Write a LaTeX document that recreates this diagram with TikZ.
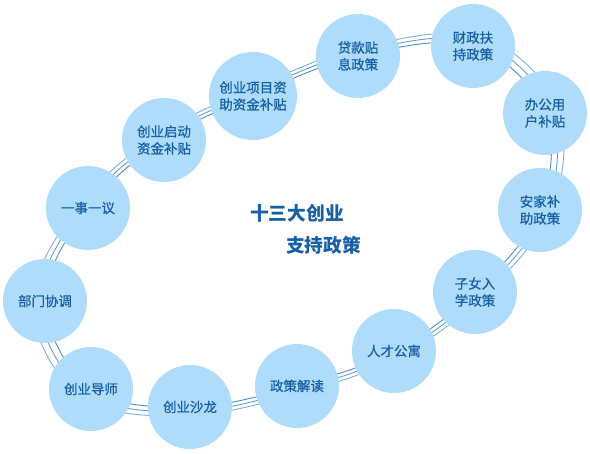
\documentclass[tikz,border=0pt]{standalone}
\usepackage{fontspec}
\newfontfamily\cjk[BoldFont={Noto Sans CJK SC}, BoldFeatures={FakeBold=0.7}]{Noto Sans CJK SC}
\newfontfamily\cjktitle{Noto Sans CJK SC}
\definecolor{PolicyBlue}{HTML}{1760A6}
\definecolor{BubbleFill}{HTML}{AEDCFA}
\definecolor{RingBlue}{HTML}{4589CC}
\usetikzlibrary{calc}
\pgfdeclarelayer{background}
\pgfsetlayers{background,main}

\begin{document}
\begin{tikzpicture}[x=0.03cm, y=-0.03cm,
    policy/.style={circle, fill=BubbleFill, minimum size=2.52cm, inner sep=0pt,
      align=center, text=PolicyBlue, font=\cjk\fontsize{11.5}{14.5}\selectfont\bfseries},
    ring/.style={line width=0.75pt}]
  \useasboundingbox (0,0) rectangle (590,454);
  \coordinate (mid) at (300,230);
  % bubbles round the loop
  \node[policy] (yishi)    at (88,208)  {一事一议};
  \node[policy] (qidong)   at (164,140) {创业启动\\资金补贴};
  \node[policy, minimum size=2.64cm] (xiangmu) at (253,96) {创业项目资\\助资金补贴};
  \node[policy] (daikuan)  at (358,56)  {贷款贴\\息政策};
  \node[policy] (caizheng) at (473,46)  {财政扶\\持政策};
  \node[policy] (bangong)  at (545,113) {办公用\\户补贴};
  \node[policy] (anjia)    at (540,210) {安家补\\助政策};
  \node[policy] (zinv)     at (475,292) {子女入\\学政策};
  \node[policy] (rencai)   at (394,351) {人才公寓};
  \node[policy] (jiedu)    at (297,386) {政策解读};
  \node[policy] (shalong)  at (190,407) {创业沙龙};
  \node[policy] (daoshi)   at (91,389)  {创业导师};
  \node[policy] (bumen)    at (45,301)  {部门协调};
  % triple ring behind the bubbles
  \begin{pgfonlayer}{background}
  \foreach \f/\c in {1.0/RingBlue, 1.025/RingBlue!85, 1.05/RingBlue!70} {
    \draw[ring, \c] plot[smooth cycle, tension=0.6] coordinates {
      ($(mid)!\f!(yishi)$) ($(mid)!\f!(qidong)$) ($(mid)!\f!(xiangmu)$)
      ($(mid)!\f!(daikuan)$) ($(mid)!\f!(caizheng)$) ($(mid)!\f!(bangong)$)
      ($(mid)!\f!(anjia)$) ($(mid)!\f!(zinv)$) ($(mid)!\f!(rencai)$)
      ($(mid)!\f!(jiedu)$) ($(mid)!\f!(shalong)$) ($(mid)!\f!(daoshi)$)
      ($(mid)!\f!(bumen)$)};
  }
  \end{pgfonlayer}
  \node[font=\cjktitle\bfseries\fontsize{16}{19}\selectfont, text=PolicyBlue, anchor=west] (title1) at (246,213) {十三大创业};
  \node[font=\cjktitle\bfseries\fontsize{16}{19}\selectfont, text=PolicyBlue, anchor=west] (title2) at (282,245) {支持政策};
\end{tikzpicture}
\end{document}
